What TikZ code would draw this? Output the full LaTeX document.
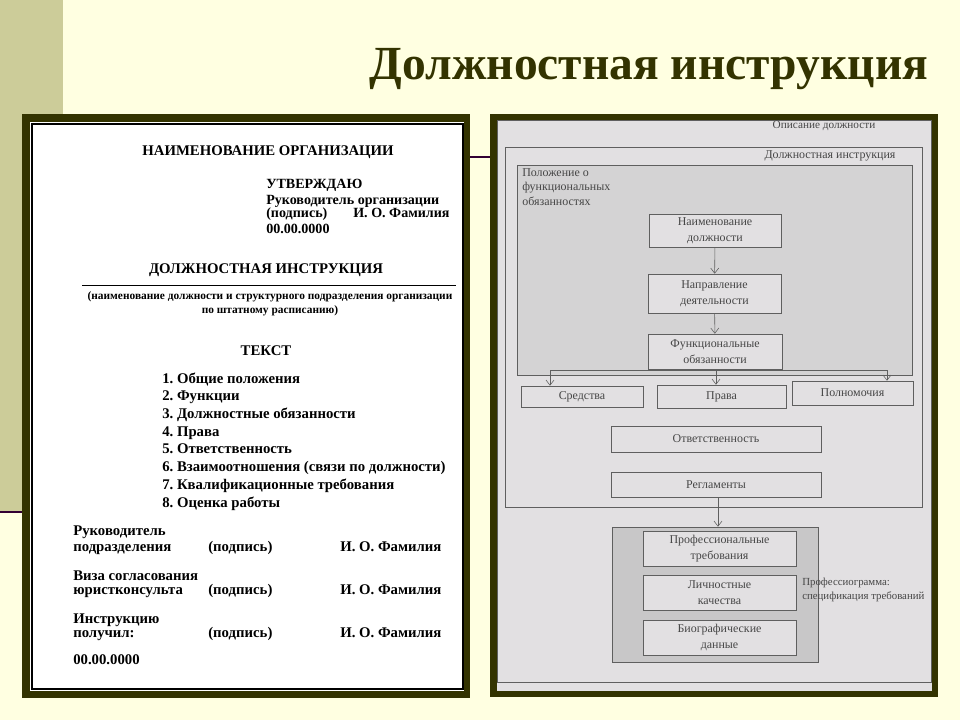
\documentclass[tikz,border=0pt]{standalone}
\usepackage{fontspec}
\setmainfont{Liberation Serif}
\usepackage{tikz}
\usetikzlibrary{positioning,arrows.meta,calc}
\definecolor{slidecream}{RGB}{255,255,225}
\definecolor{stripolive}{RGB}{204,204,153}
\definecolor{titleolive}{RGB}{51,51,0}
\definecolor{framedark}{RGB}{51,51,0}
\definecolor{rulepurple}{RGB}{51,0,51}
\definecolor{scangray}{RGB}{226,224,226}
\definecolor{blockgray}{RGB}{212,211,212}
\definecolor{groupgray}{RGB}{200,199,200}
\definecolor{chartline}{RGB}{95,95,95}
\definecolor{charttext}{RGB}{70,70,70}
\tikzset{
  slide-title/.style={font=\fontsize{33.8}{40}\selectfont\bfseries, text=titleolive, anchor=base, inner sep=0pt},
  doc-head/.style={font=\fontsize{10.5}{12}\selectfont\bfseries, inner sep=0pt},
  doc-line/.style={font=\fontsize{10.5}{12}\selectfont\bfseries, anchor=base west, inner sep=0pt},
  doc-note/.style={font=\fontsize{8.1}{10}\selectfont\bfseries, inner sep=0pt},
  chart-box/.style={draw=chartline, fill=scangray, font=\fontsize{8.5}{11.5}\selectfont,
    text=charttext, align=center, inner sep=1pt},
  frame-box/.style={draw=chartline, fill=scangray, inner sep=0pt},
  group-box/.style={draw=chartline, fill=groupgray, inner sep=0pt},
  chart-label/.style={font=\fontsize{8.5}{10.5}\selectfont, text=charttext, inner sep=0pt},
  flow-arrow/.style={-{Straight Barb[length=1.3mm, width=2mm]}, draw=chartline, thin}
}
\begin{document}
\begin{tikzpicture}
\useasboundingbox (0,0) rectangle (24,18);
% slide background, olive strip and template rules
\fill[slidecream] (0,0) rectangle (24,18);
\fill[stripolive] (0,5.2) rectangle (1.575,18);
\draw[rulepurple, line width=2pt] (0,5.2) -- (1.575,5.2);
\draw[rulepurple, line width=1.4pt] (1.575,14.075) -- (23,14.075);
\node[slide-title] (title) at (16.225,16.0) {Должностная инструкция};
% left picture: the form
\fill[framedark] (0.55,0.55) rectangle (11.75,15.15);
\fill[white] (0.75,0.725) rectangle (11.6,14.95);
\draw[black, line width=1.2pt] (0.8,0.775) rectangle (11.575,14.9);
\node[doc-head] (org) at (6.7,14.2) {НАИМЕНОВАНИЕ ОРГАНИЗАЦИИ};
\begin{scope}[doc-line/.append style={font=\fontsize{10}{12}\selectfont\bfseries}]
\node[doc-line] (approve) at (6.65,13.275) {УТВЕРЖДАЮ};
\node[doc-line] (head)    at (6.65,12.9)   {Руководитель организации};
\node[doc-line] (sign)    at (6.65,12.55)  {(подпись)};
\node[doc-line] (name)    at (8.825,12.55) {И. О. Фамилия};
\node[doc-line] (date)    at (6.65,12.175) {00.00.0000};
\end{scope}
\node[doc-head] (doctitle) at (6.65,11.25) {ДОЛЖНОСТНАЯ ИНСТРУКЦИЯ};
\coordinate (rule-l) at (2.05,10.875);
\coordinate (rule-r) at (11.4,10.875);
\draw[black, thin] (rule-l) -- (rule-r);
\node[doc-note] (post) at (6.75,10.575) {(наименование должности и структурного подразделения организации};
\node[doc-note] (staff) at (6.75,10.225) {по штатному расписанию)};
\node[doc-head] (text) at (6.65,9.225) {ТЕКСТ};
\foreach \i/\item in {1/Общие положения, 2/Функции, 3/Должностные обязанности, 4/Права,
  5/Ответственность, 6/Взаимоотношения (связи по должности), 7/Квалификационные требования,
  8/Оценка работы}
  \node[doc-line] (item\i) at (4.05,{8.425-0.443*(\i-1)}) {\i.~\item};
% signatures
\node[doc-line] (boss1)  at (1.825,4.625) {Руководитель};
\node[doc-line] (boss2)  at (1.825,4.225) {подразделения};
\node[doc-line] (bsign)  at (5.2,4.225)   {(подпись)};
\node[doc-line] (bname)  at (8.5,4.225)   {И. О. Фамилия};
\node[doc-line] (visa1)  at (1.825,3.5)   {Виза согласования};
\node[doc-line] (visa2)  at (1.825,3.15)  {юристконсульта};
\node[doc-line] (vsign)  at (5.2,3.15)    {(подпись)};
\node[doc-line] (vname)  at (8.5,3.15)    {И. О. Фамилия};
\node[doc-line] (got1)   at (1.825,2.425) {Инструкцию};
\node[doc-line] (got2)   at (1.825,2.075) {получил:};
\node[doc-line] (gsign)  at (5.2,2.075)   {(подпись)};
\node[doc-line] (gname)  at (8.5,2.075)   {И. О. Фамилия};
\node[doc-line] (gdate)  at (1.825,1.4)   {00.00.0000};
% right picture: the scheme
\fill[framedark] (12.25,0.575) rectangle (23.45,15.15);
\fill[scangray] (12.425,0.725) rectangle (23.3,14.975);
\node[frame-box, minimum width=10.85cm, minimum height=14.05cm] (desc) at (17.85,7.975) {};
\node[chart-label, font=\fontsize{8}{10}\selectfont] at (20.6,14.85) {Описание должности};
\node[frame-box, minimum width=10.425cm, minimum height=9.0cm] (instr) at (17.8375,9.825) {};
\node[chart-label] at (20.75,14.1) {Должностная инструкция};
\node[frame-box, fill=blockgray, minimum width=9.875cm, minimum height=5.25cm] (duty) at (17.8625,11.25) {};
\node[chart-label, align=left, anchor=north west] at (13.05,13.8) {Положение о\\функциональных\\обязанностях};
\node[chart-box, minimum width=3.3cm, minimum height=0.825cm] (posname) at (17.875,12.2375) {Наименование\\должности};
\node[chart-box, minimum width=3.325cm, minimum height=0.975cm] (area) at (17.8625,10.6625) {Направление\\деятельности};
\node[chart-box, minimum width=3.35cm, minimum height=0.875cm] (tasks) at (17.875,9.2125) {Функциональные\\обязанности};
\node[chart-box, minimum width=3.05cm, minimum height=0.525cm] (means) at (14.55,8.0875) {Средства};
\node[chart-box, minimum width=3.225cm, minimum height=0.575cm] (rights) at (18.0375,8.0875) {Права};
\node[chart-box, minimum width=3.025cm, minimum height=0.6cm] (powers) at (21.3125,8.175) {Полномочия};
\node[chart-box, minimum width=5.25cm, minimum height=0.65cm] (resp) at (17.9,7.025) {Ответственность};
\node[chart-box, minimum width=5.25cm, minimum height=0.625cm] (rules) at (17.9,5.8875) {Регламенты};
% professiogram
\node[group-box, minimum width=5.15cm, minimum height=3.375cm] (spec) at (17.875,3.1375) {};
\node[chart-box, minimum width=3.825cm, minimum height=0.875cm] (skills) at (17.9875,4.2875) {Профессиональные\\требования};
\node[chart-box, minimum width=3.825cm, minimum height=0.875cm] (traits) at (17.9875,3.1875) {Личностные\\качества};
\node[chart-box, minimum width=3.825cm, minimum height=0.875cm] (bio) at (17.9875,2.0625) {Биографические\\данные};
\node[chart-label, font=\fontsize{7.7}{10.5}\selectfont, align=left, anchor=west] at (20.05,3.25) {Профессиограмма:\\спецификация требований};
% connectors
\draw[flow-arrow] (posname) -- (area);
\draw[flow-arrow] (area) -- (tasks);
\coordinate (fork-l) at (13.75,8.75);
\coordinate (fork-m) at (17.9,8.75);
\coordinate (fork-r) at (22.175,8.75);
\draw[chartline, thin] (fork-l) -- (fork-r);
\draw[flow-arrow] (fork-l) -- (fork-l |- means.north);
\draw[flow-arrow] (fork-m) -- (fork-m |- rights.north);
\draw[flow-arrow] (fork-r) -- (fork-r |- powers.north);
\draw[flow-arrow] (rules.south -| spec.north) ++(0.075,0) -- ($(spec.north)+(0.075,0)$);
\end{tikzpicture}
\end{document}
